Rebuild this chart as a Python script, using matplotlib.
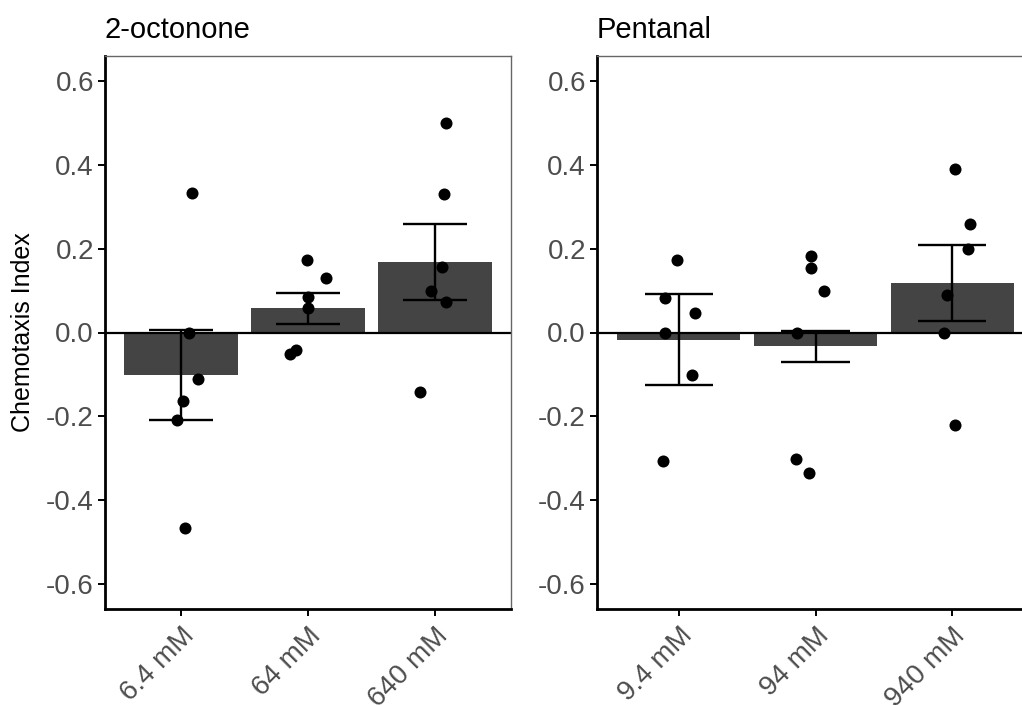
import numpy as np
import matplotlib.pyplot as plt

plt.rcParams['font.family'] = ['Liberation Sans', 'DejaVu Sans']

# 2-octonone
oct_labels = ["6.4 mM", "64 mM", "640 mM"]
oct_mean = [-0.102, 0.058, 0.169]
oct_se = [0.107, 0.037, 0.091]
oct_points = [
    [0.333, 0.0, -0.110, -0.163, -0.210, -0.467],
    [0.172, 0.130, 0.084, 0.059, -0.041, -0.052],
    [0.499, 0.331, 0.156, 0.098, 0.073, -0.142],
]
oct_jitter = [
    [0.084, 0.06, 0.13, 0.013, -0.034, 0.031],
    [-0.008, 0.141, 0.0, 0.0, -0.094, -0.139],
    [0.084, 0.071, 0.057, -0.034, 0.084, -0.118],
]

# Pentanal
pen_labels = ["9.4 mM", "94 mM", "940 mM"]
pen_mean = [-0.017, -0.033, 0.119]
pen_se = [0.108, 0.037, 0.091]
pen_points = [
    [0.172, 0.082, 0.047, 0.0, -0.102, -0.307],
    [0.183, 0.154, 0.100, 0.0, -0.303, -0.335],
    [0.391, 0.259, 0.199, 0.090, 0.0, -0.220],
]
pen_jitter = [
    [-0.017, -0.103, 0.117, -0.103, 0.093, -0.12],
    [-0.034, -0.034, 0.059, -0.134, -0.142, -0.046],
    [0.02, 0.132, 0.12, -0.039, -0.059, 0.02],
]

fig = plt.figure(figsize=(10.22, 7.05), dpi=100)
ax1 = fig.add_axes([105 / 1022, 96 / 705, 406 / 1022, 553 / 705])
ax2 = fig.add_axes([597 / 1022, 96 / 705, 437 / 1022, 553 / 705])


def panel(ax, title, labels, mean, se, points, jitter):
    x = np.arange(1, len(labels) + 1)
    mean = np.array(mean)
    se = np.array(se)
    ax.bar(x, mean, width=0.9, color="#444444", zorder=1)
    ax.axhline(0, color="black", lw=1.6, zorder=2)
    # error bars with caps half a category wide
    ax.vlines(x, mean - se, mean + se, color="black", lw=1.7, zorder=3)
    ax.hlines(mean - se, x - 0.25, x + 0.25, color="black", lw=1.7, zorder=3)
    ax.hlines(mean + se, x - 0.25, x + 0.25, color="black", lw=1.7, zorder=3)
    for i in range(len(labels)):
        ax.scatter(x[i] + np.array(jitter[i]), points[i], s=75, color="black",
                   zorder=4, linewidths=0)
    ax.set_xlim(0.4, len(labels) + 0.6)
    ax.set_ylim(-0.66, 0.66)
    ax.set_yticks([-0.6, -0.4, -0.2, 0.0, 0.2, 0.4, 0.6])
    ax.set_yticklabels(["-0.6", "-0.4", "-0.2", "0.0", "0.2", "0.4", "0.6"])
    ax.set_xticks(x)
    ax.set_xticklabels(labels, rotation=45, ha="right", rotation_mode="anchor")
    ax.tick_params(axis="both", labelsize=20, colors="black", labelcolor="#4d4d4d",
                   length=5, width=1.4, direction="out")
    ax.tick_params(axis="x", pad=5)
    ax.tick_params(axis="y", pad=3)
    for s in ["left", "bottom"]:
        ax.spines[s].set_linewidth(2)
        ax.spines[s].set_color("black")
    for s in ["top", "right"]:
        ax.spines[s].set_linewidth(1)
        ax.spines[s].set_color("#666666")
    ax.set_title(title, loc="left", fontsize=21, pad=13)


panel(ax1, "2-octonone", oct_labels, oct_mean, oct_se, oct_points, oct_jitter)
panel(ax2, "Pentanal", pen_labels, pen_mean, pen_se, pen_points, pen_jitter)
ax1.set_ylabel("Chemotaxis Index", fontsize=18, labelpad=8)

fig.savefig("out.png", dpi=100)
